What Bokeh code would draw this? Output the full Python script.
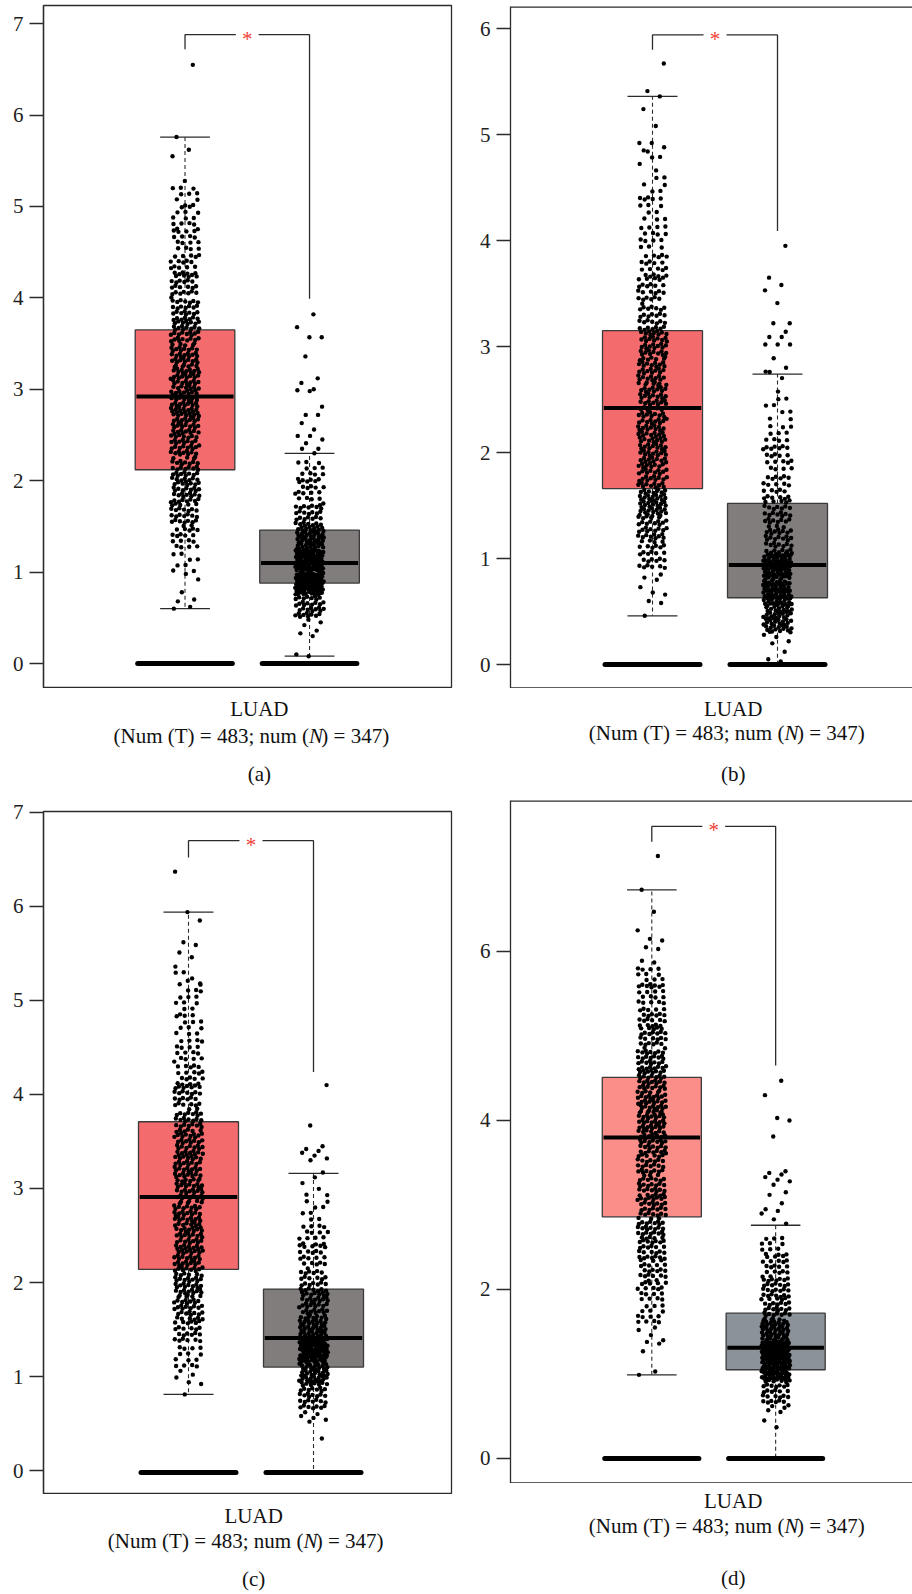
import numpy as np
from bokeh.plotting import figure
from bokeh.models import Label, FixedTicker, Range1d
from bokeh.layouts import row, column
from bokeh.core.properties import value
from bokeh.embed import file_html
from bokeh.resources import INLINE

FONT = "'Liberation Serif', 'Times New Roman', serif"

# ---------------- data ----------------
cancer_type = "LUAD"
num_tumor = 483
num_normal = 347
panel_tags = ["(a)", "(b)", "(c)", "(d)"]
groups = [1, 2]  # tumor, normal

y_ticks_a = [0, 1, 2, 3, 4, 5, 6, 7]
y_ticks_b = [0, 1, 2, 3, 4, 5, 6]
y_ticks_c = [0, 1, 2, 3, 4, 5, 6, 7]
y_ticks_d = [0, 2, 4, 6]

BIN_W = 0.25

# box stats: [lower whisker, Q1, median, Q3, upper whisker]
a_tumor_box = [0.60, 2.12, 2.92, 3.65, 5.76]
a_normal_box = [0.08, 0.88, 1.10, 1.46, 2.30]
b_tumor_box = [0.46, 1.66, 2.42, 3.15, 5.36]
b_normal_box = [0.00, 0.63, 0.94, 1.52, 2.74]
c_tumor_box = [0.81, 2.14, 2.91, 3.71, 5.94]
c_normal_box = [0.00, 1.10, 1.41, 1.93, 3.16]
d_tumor_box = [0.99, 2.86, 3.80, 4.51, 6.73]
d_normal_box = [0.00, 1.05, 1.31, 1.72, 2.76]

# jittered points: explicit low tail, binned bulk (counts per 0.25 band), explicit high tail
a_tumor_low = [0.60, 0.62, 0.68, 0.70, 0.78, 0.92, 0.98]
a_tumor_start = 1.0
a_tumor_bins = [8, 18, 28, 34, 34, 36, 40, 43, 42, 38, 36, 29, 25, 20, 16, 14, 10]
a_tumor_high = [5.28, 5.55, 5.62, 5.76, 6.55]
a_normal_low = [0.08, 0.10, 0.30, 0.33, 0.36, 0.42, 0.45, 0.48]
a_normal_start = 0.5
a_normal_bins = [35, 85, 80, 55, 30, 18, 14]
a_normal_high = [2.30, 2.35, 2.35, 2.41, 2.45, 2.49, 2.49, 2.56, 2.63, 2.72, 2.72,
                 2.81, 2.98, 2.99, 3.00, 3.07, 3.12, 3.36, 3.57, 3.57, 3.68, 3.82]

b_tumor_low = [0.46, 0.58, 0.60, 0.66, 0.68, 0.73, 0.80, 0.82, 0.85]
b_tumor_start = 0.9
b_tumor_bins = [24, 36, 50, 40, 42, 42, 40, 40, 40, 28, 24, 20, 15, 11, 8, 5]
b_tumor_high = [4.84, 4.88, 4.92, 4.92, 5.08, 5.24, 5.36, 5.41, 5.67]
b_normal_low = [0.03, 0.05, 0.12, 0.20, 0.22, 0.26, 0.28]
b_normal_start = 0.3
b_normal_bins = [55, 70, 70, 35, 30, 22, 18, 13, 8, 3]
b_normal_high = [2.76, 2.80, 2.89, 3.02, 3.02, 3.02, 3.09, 3.09, 3.14, 3.22, 3.22,
                 3.41, 3.53, 3.58, 3.65, 3.95]

c_tumor_low = [0.81, 0.92, 0.94, 0.99, 1.02, 1.06]
c_tumor_start = 1.1
c_tumor_bins = [14, 24, 34, 40, 39, 39, 39, 39, 38, 38, 32, 26, 20, 16, 12, 10, 7]
c_tumor_high = [5.18, 5.21, 5.36, 5.46, 5.51, 5.59, 5.62, 5.85, 5.94, 6.37]
c_normal_low = [0.34, 0.52, 0.54, 0.56, 0.58, 0.60, 0.62]
c_normal_start = 0.65
c_normal_bins = [30, 55, 80, 50, 40, 26, 21, 15, 8, 5]
c_normal_high = [3.17, 3.30, 3.32, 3.35, 3.38, 3.40, 3.42, 3.45, 3.67, 4.10]

d_tumor_low = [0.99, 1.03, 1.27, 1.36, 1.38, 1.40, 1.46, 1.52, 1.55]
d_tumor_start = 1.6
d_tumor_bins = [14, 18, 22, 26, 32, 30, 30, 30, 34, 40, 40, 37, 32, 26, 22, 18, 13]
d_tumor_high = [5.87, 5.89, 6.03, 6.05, 6.13, 6.15, 6.25, 6.47, 6.73, 7.13]
d_normal_low = [0.37, 0.45, 0.55, 0.57, 0.60, 0.62, 0.63]
d_normal_start = 0.65
d_normal_bins = [25, 70, 85, 50, 30, 28, 20, 12]
d_normal_high = [2.78, 2.83, 2.90, 2.93, 2.95, 3.02, 3.12, 3.15, 3.24, 3.28, 3.30,
                 3.33, 3.36, 3.38, 3.40, 3.81, 4.00, 4.03, 4.30, 4.47]

# significance bracket: [top, left leg bottom, right leg bottom]
a_bracket = [6.88, 6.72, 3.99]
b_bracket = [5.94, 5.80, 4.09]
c_bracket = [6.70, 6.52, 4.24]
d_bracket = [7.48, 7.30, 4.65]

# level of the thick bar at zero
zero_levels = [0.0, 0.0, -0.02, 0.0]

# ---------------- helpers ----------------
R2_A = 0.7548776662466927
R2_B = 0.5698402909980532


def expand(low, start, counts, high, phase):
    """y values from the read tails + band counts; x jitter fractions from an R2 sequence."""
    ys, fx = [], []
    j = 0
    for v in list(low):
        ys.append(v)
        fx.append((phase + j * R2_B) % 1.0)
        j += 1
    for i, c in enumerate(counts):
        lo = start + i * BIN_W
        for _ in range(c):
            ys.append(lo + BIN_W * ((0.5 + j * R2_A) % 1.0))
            fx.append((phase + j * R2_B) % 1.0)
            j += 1
    for v in list(high):
        ys.append(v)
        fx.append((phase + j * R2_B) % 1.0)
        j += 1
    return np.array(fx) - 0.5, np.array(ys)


LINE = "#2b2b2b"
STAR = "#EE4036"
TEXT = "#111111"


def make_panel(cfg):
    w, h = cfg["size"]
    bl, br, bt = cfg["borders"]
    p = figure(width=w, height=h, x_range=Range1d(*cfg["xr"]), y_range=Range1d(*cfg["yr"]),
               output_backend="svg", toolbar_location=None,
               min_border_left=bl, min_border_right=br, min_border_top=bt, min_border_bottom=0)
    p.grid.visible = False
    p.xaxis.visible = False
    p.background_fill_color = "white"
    p.border_fill_color = "white"
    frame_h = h - bt
    ys0, ys1 = cfg["yr"]
    upp = (ys1 - ys0) / frame_h  # data units per pixel

    if cfg["cut"]:
        p.outline_line_color = None
        x0, x1 = cfg["xr"]
        p.segment(x0=[x0, x0], x1=[x1 + 1, x1 + 1], y0=[ys1, ys0], y1=[ys1, ys0],
                  line_color=LINE, line_width=2.6)
    else:
        p.outline_line_color = LINE
        p.outline_line_width = 1.3
        p.outline_line_alpha = 1.0

    ya = p.yaxis[0]
    ya.ticker = FixedTicker(ticks=cfg["ticks"])
    ya.major_tick_out = 14
    ya.major_tick_in = 0
    ya.minor_tick_out = 0
    ya.minor_tick_in = 0
    ya.axis_line_color = LINE
    ya.axis_line_width = 1.3
    ya.major_tick_line_color = LINE
    ya.major_tick_line_width = 1.3
    ya.major_label_text_font = FONT
    ya.major_label_text_font_size = "21px"
    ya.major_label_text_color = "#222222"
    ya.major_label_standoff = 6

    half_box = 0.4
    for gx, box, color, pts in [
        (groups[0], cfg["tumor_box"], cfg["tumor_color"], cfg["tumor_pts"]),
        (groups[1], cfg["normal_box"], cfg["normal_color"], cfg["normal_pts"]),
    ]:
        lw, q1, med, q3, uw = box
        p.quad(left=[gx - half_box], right=[gx + half_box], bottom=[q1], top=[q3],
               fill_color=color, line_color="#3a3a3a", line_width=1.3)
        p.segment(x0=[gx, gx], x1=[gx, gx], y0=[q3, q1], y1=[uw, lw],
                  line_color=LINE, line_width=1.1, line_dash="4 3")
        p.segment(x0=[gx - 0.2, gx - 0.2], x1=[gx + 0.2, gx + 0.2], y0=[uw, lw], y1=[uw, lw],
                  line_color=LINE, line_width=1.3)
        p.segment(x0=[gx - half_box + 0.01], x1=[gx + half_box - 0.01], y0=[med], y1=[med],
                  line_color="black", line_width=4)
        fx, ys = pts
        p.scatter(x=gx + fx * 0.23, y=ys, size=4.4, color="black", line_width=0)
        z = cfg["zero"]
        p.segment(x0=[gx - 0.38], x1=[gx + 0.38], y0=[z], y1=[z],
                  line_color="black", line_width=5, line_cap="round")

    top, lb, rb = cfg["bracket"]
    g = 0.092
    mid = (groups[0] + groups[1]) / 2
    p.line(x=[groups[0], groups[0], mid - g], y=[lb, top, top], line_color=LINE, line_width=1.3)
    p.line(x=[mid + g, groups[1], groups[1]], y=[top, top, rb], line_color=LINE, line_width=1.3)
    p.add_layout(Label(x=mid, y=top - 4.0 * upp, text="*", text_color=STAR, text_font=FONT,
                       text_font_size="21px", text_align="center", text_baseline="middle"))
    return p


def make_caption(w, h, cx, offs, tag):
    t = figure(width=w, height=h, x_range=Range1d(0, w), y_range=Range1d(h, 0),
               output_backend="svg", toolbar_location=None, x_axis_type=None, y_axis_type=None,
               min_border_left=0, min_border_right=0, min_border_top=0, min_border_bottom=0)
    t.grid.visible = False
    t.outline_line_color = None
    t.background_fill_color = "white"
    t.border_fill_color = "white"
    fs = 21
    common = dict(text_font=value(FONT), text_font_size=value(f"{fs}px"), text_color=TEXT,
                  text_baseline="middle")
    o1, o2, o3 = offs
    t.text(x=[cx], y=[o1], text=[cancer_type], text_align="center", **common)
    part1 = "(Num (T) = %d; num (" % num_tumor
    part2 = "N"
    part3 = ") = %d)" % num_normal
    w1, w2, w3 = 9.313 * fs, 0.667 * fs, 3.230 * fs
    xn = cx - (w1 + w2 + w3) / 2 + w1  # anchor at the italic N
    t.text(x=[xn], y=[o2], text=[part1], text_align="right", **common)
    t.text(x=[xn], y=[o2], text=[part2], text_align="left",
           text_font_style="italic", **common)
    t.text(x=[xn + w2], y=[o2], text=[part3], text_align="left", **common)
    t.text(x=[cx], y=[o3], text=[tag], text_align="center", **common)
    return t


RED = "#F46B6E"
GRAY = "#827D7D"
RED_D = "#FC8E8A"
GRAY_D = "#8C9299"

cfgs = [
    dict(size=(466, 688), borders=(43, 15, 5), xr=(-0.1365, 3.14), yr=(-0.2735, 7.199),
         ticks=y_ticks_a, tumor_box=a_tumor_box, normal_box=a_normal_box,
         tumor_pts=expand(a_tumor_low, a_tumor_start, a_tumor_bins, a_tumor_high, 0.11),
         normal_pts=expand(a_normal_low, a_normal_start, a_normal_bins, a_normal_high, 0.47),
         tumor_color=RED, normal_color=GRAY, bracket=a_bracket, zero=zero_levels[0], cut=False),
    dict(size=(446, 688), borders=(44, 0, 6), xr=(-0.136, 3.08), yr=(-0.226, 6.208),
         ticks=y_ticks_b, tumor_box=b_tumor_box, normal_box=b_normal_box,
         tumor_pts=expand(b_tumor_low, b_tumor_start, b_tumor_bins, b_tumor_high, 0.23),
         normal_pts=expand(b_normal_low, b_normal_start, b_normal_bins, b_normal_high, 0.61),
         tumor_color=RED, normal_color=GRAY, bracket=b_bracket, zero=zero_levels[1], cut=True),
    dict(size=(466, 696), borders=(43, 15, 13), xr=(-0.16, 3.104), yr=(-0.255, 7.01),
         ticks=y_ticks_c, tumor_box=c_tumor_box, normal_box=c_normal_box,
         tumor_pts=expand(c_tumor_low, c_tumor_start, c_tumor_bins, c_tumor_high, 0.37),
         normal_pts=expand(c_normal_low, c_normal_start, c_normal_bins, c_normal_high, 0.79),
         tumor_color=RED, normal_color=GRAY, bracket=c_bracket, zero=zero_levels[2], cut=False),
    dict(size=(446, 685), borders=(44, 0, 2), xr=(-0.141, 3.105), yr=(-0.296, 7.787),
         ticks=y_ticks_d, tumor_box=d_tumor_box, normal_box=d_normal_box,
         tumor_pts=expand(d_tumor_low, d_tumor_start, d_tumor_bins, d_tumor_high, 0.05),
         normal_pts=expand(d_normal_low, d_normal_start, d_normal_bins, d_normal_high, 0.53),
         tumor_color=RED_D, normal_color=GRAY_D, bracket=d_bracket, zero=zero_levels[3], cut=True),
]

# caption strips: (width, height, center x, vertical offsets of the three lines)
captions = [
    (466, 110, 246.5, (20, 47, 85)),
    (446, 110, 247.0, (20, 44, 85)),
    (466, 100, 240.0, (21, 46, 84)),
    (446, 111, 247.0, (17, 42, 94)),
]

panels = [make_panel(c) for c in cfgs]
caps = [make_caption(w, h, cx, offs, panel_tags[i]) for i, (w, h, cx, offs) in enumerate(captions)]

layout = column(
    row(column(panels[0], caps[0]), column(panels[1], caps[1])),
    row(column(panels[2], caps[2]), column(panels[3], caps[3])),
)

open("out.html", "w").write(file_html(layout, INLINE))
